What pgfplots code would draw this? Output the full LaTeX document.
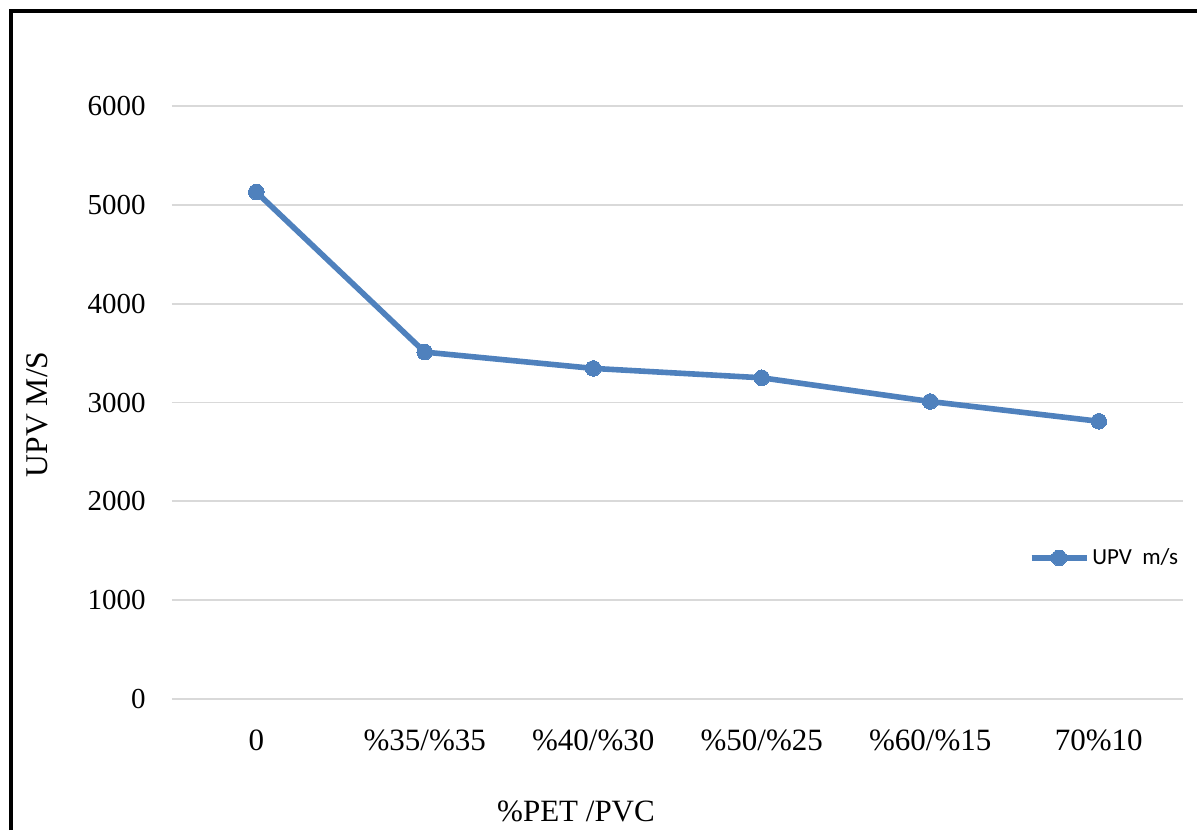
\documentclass[border=0pt]{standalone}
\usepackage{fontspec}
\setmainfont{Liberation Serif}
\newfontfamily\legendfont{Carlito}
\usepackage{pgfplots}
\pgfplotsset{compat=1.18}

\definecolor{upvblue}{HTML}{4F81BD}
\definecolor{gridgray}{HTML}{D9D9D9}

\begin{document}
\begin{tikzpicture}
  % page frame
  \useasboundingbox (0,0) rectangle (598.5pt,415pt);
  \draw[line width=2pt] (5.5pt,0) -- (5.5pt,409.6pt) -- (598.5pt,409.6pt);

  \begin{axis}[
    scale only axis,
    width=505.5pt, height=296.5pt,
    at={(86pt,65.5pt)}, anchor=south west,
    xmin=-0.5, xmax=5.5,
    ymin=0, ymax=6000,
    ytick={0,1000,...,6000},
    xtick={0,1,2,3,4,5},
    xticklabels={0,{\%35/\%35},{\%40/\%30},{\%50/\%25},{\%60/\%15},{70\%10}},
    /pgf/number format/.cd, 1000 sep={}, assume math mode=true,
    /pgfplots/.cd,
    axis line style={draw=none},
    major tick length=0pt,
    ymajorgrids,
    grid style={gridgray, line width=0.9pt},
    yticklabel style={font=\fontsize{14.5}{17}\selectfont, anchor=east, inner sep=0pt, xshift=-13pt},
    xticklabel style={font=\fontsize{15.5}{18}\selectfont, anchor=base, inner sep=0pt, yshift=-25.5pt},
    ylabel={UPV M/S},
    ylabel style={font=\fontsize{15.8}{18}\selectfont, at={(axis description cs:-0.1335,0.48)}, anchor=center, rotate=0},
    xlabel={\%PET /PVC},
    xlabel style={font=\fontsize{15.5}{18}\selectfont, at={(axis description cs:0.3996,-0.2074)}, anchor=base},
    legend style={draw=none, fill=none, at={(axis description cs:0.847,0.238)}, anchor=west,
      font=\legendfont\fontsize{11.5}{13}\selectfont, inner sep=0pt,
      nodes={inner sep=1.5pt}},
    legend image code/.code={
      \draw[#1, mark repeat=2, mark phase=2]
        plot coordinates {(0pt,0pt) (13.75pt,0pt) (27.5pt,0pt)};
    },
  ]
    \addplot[upvblue, line width=2.8pt, mark=*, mark size=3.9pt,
      mark options={fill=upvblue, draw=upvblue, line width=0pt}]
      coordinates {(0,5130) (1,3510) (2,3345) (3,3250) (4,3010) (5,2810)};
    \addlegendentry{UPV\ \ m/s}
  \end{axis}
\end{tikzpicture}
\end{document}
